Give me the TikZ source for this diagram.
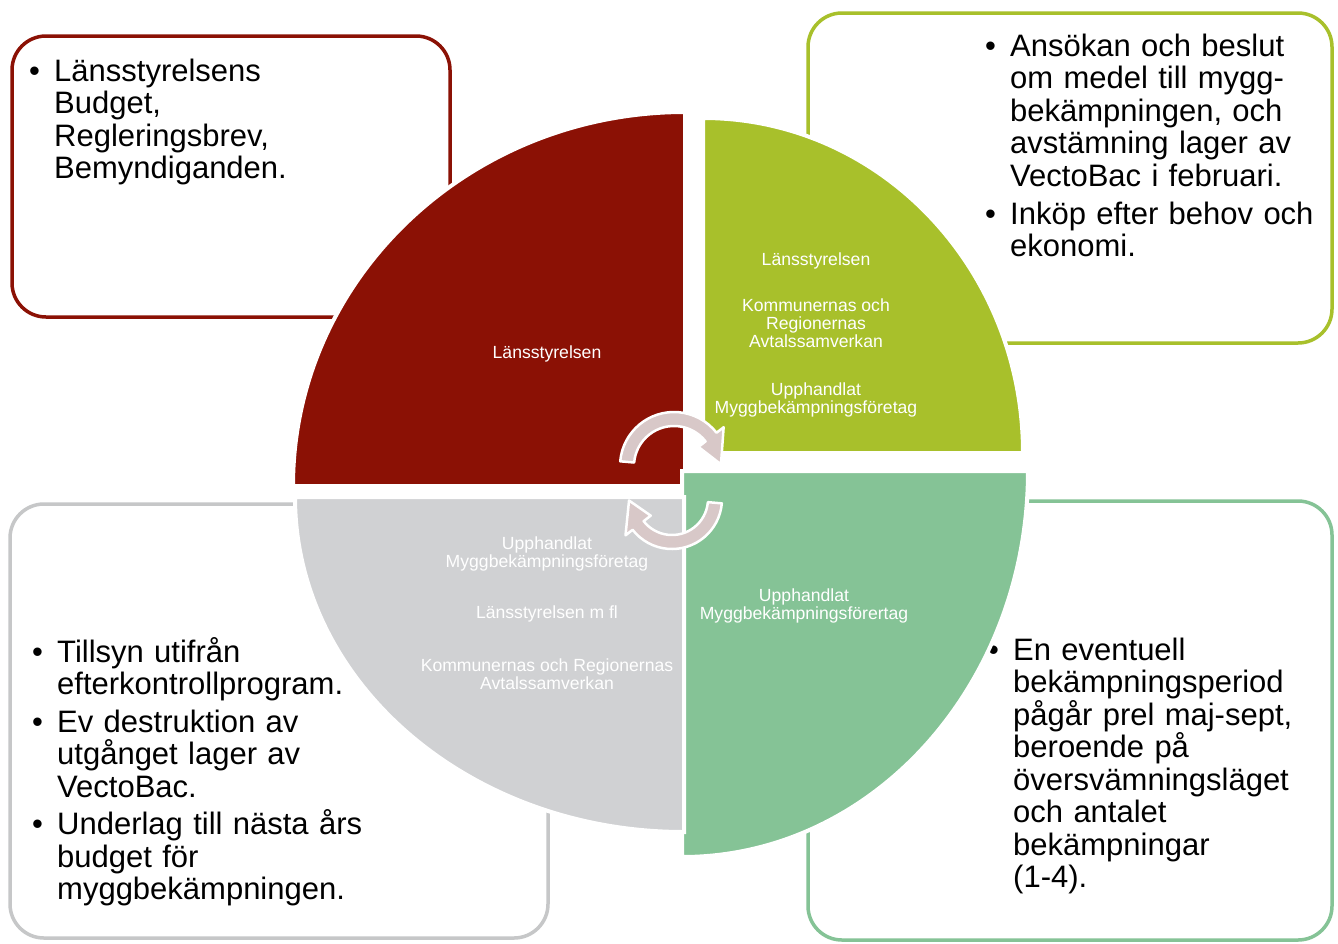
\documentclass[tikz,border=0pt]{standalone}
\usepackage{fontspec}
\setmainfont{Liberation Sans}
\usetikzlibrary{calc}

\definecolor{rod}{RGB}{139,17,5}
\definecolor{lime}{RGB}{168,192,43}
\definecolor{mint}{RGB}{133,195,150}
\definecolor{ljusgra}{RGB}{208,209,211}
\definecolor{pil}{RGB}{216,200,200}

\newcommand{\bpunkt}[1]{\noindent\hangindent=25pt\hangafter=1\hbox to 25pt{\textbullet\hfil}#1\par}

\begin{document}
\begin{tikzpicture}[x=1pt, y=-1pt,
  ruta/.style={line width=3.5pt, rounded corners=34pt, fill=white},
  sektor/.style={draw=white, line width=4pt},
  stor/.style={anchor=base west, inner sep=0pt, text width=360pt, font=\fontsize{31}{32.5}\selectfont},
  liten/.style={align=center, inner sep=0pt, text=white, font=\fontsize{17.6}{18}\selectfont},
  vandpil/.style={fill=pil, draw=white, line width=2.5pt, line join=round}]

\useasboundingbox[fill=white] (0,0) rectangle (1338,943);

% rutorna
\draw[ruta, draw=rod] (12,36) rectangle (450,317);
\draw[ruta, draw=lime] (808,13) rectangle (1332,343);
\draw[ruta, draw=mint] (808,501) rectangle (1332,940);
\draw[ruta, draw=ljusgra!95!black] (10,504) rectangle (548,938);

\node[stor] (budget) at (29,81) {\raggedright\setlength{\parskip}{5pt}%
 \bpunkt{Länsstyrelsens\newline Budget,\newline Regleringsbrev,\newline Bemyndiganden.}};
\node[stor] (ansokan) at (985,56) {\raggedright\setlength{\parskip}{5.5pt}%
 \bpunkt{Ansökan och beslut\newline om medel till mygg-\newline bekämpningen, och\newline avstämning lager av\newline VectoBac i februari.}%
 \bpunkt{Inköp efter behov och\newline ekonomi.}};
\node[stor] (period) at (988,660) {\raggedright\setlength{\parskip}{5pt}%
 \bpunkt{En eventuell\newline bekämpningsperiod\newline pågår prel maj-sept,\newline beroende på\newline översvämningsläget\newline och antalet\newline bekämpningar\newline (1-4).}};
\node[stor] (tillsyn) at (32,662) {\raggedright\setlength{\parskip}{5pt}%
 \bpunkt{Tillsyn utifrån\newline efterkontrollprogram.}%
 \bpunkt{Ev destruktion av\newline utgånget lager av\newline VectoBac.}%
 \bpunkt{Underlag till nästa års\newline budget för\newline myggbekämpningen.}};

% cirkeln
\coordinate (rc) at (685,486);
\coordinate (gc) at (703,453);
\coordinate (mc) at (682,471);
\coordinate (lc) at (684,497);
\filldraw[sektor, fill=rod] (rc) -- ++(-392,0) arc[start angle=180, end angle=270, x radius=392, y radius=374] -- cycle;
\filldraw[sektor, fill=lime] (gc) -- ++(0,-335) arc[start angle=270, end angle=360, x radius=320, y radius=335] -- cycle;
\filldraw[sektor, fill=mint] (mc) -- ++(346,0) arc[start angle=0, end angle=90, x radius=346, y radius=386] -- cycle;
\filldraw[sektor, fill=ljusgra] (lc) -- ++(0,335) arc[start angle=90, end angle=180, x radius=389, y radius=335] -- cycle;

\node[liten] (lst1) at (547,354) {Länsstyrelsen};
\node[liten] (lst2) at (816,261) {Länsstyrelsen};
\node[liten] (kom1) at (816,323) {Kommunernas och\\Regionernas\\Avtalssamverkan};
\node[liten] (upp1) at (816,400) {Upphandlat\\Myggbekämpningsföretag};
\node[liten] (upp2) at (804,606) {Upphandlat\\Myggbekämpningsförertag};
\node[liten] (upp3) at (547,554) {Upphandlat\\Myggbekämpningsföretag};
\node[liten] (lst3) at (547,614) {Länsstyrelsen m fl};
\node[liten] (kom2) at (547,674) {Kommunernas och Regionernas\\Avtalssamverkan};

% pilarna i mitten
\coordinate (uc) at (674,466);
\coordinate (nc) at (672,499);
\filldraw[vandpil] ($(uc)+(185:54)$) arc[start angle=185, end angle=322, radius=54]
  -- ($(uc)+(322:63)$) -- ($(uc)+(358:47)$) -- ($(uc)+(322:31)$) -- ($(uc)+(322:40)$)
  arc[start angle=322, end angle=185, radius=40] -- cycle;
\filldraw[vandpil] ($(nc)+(5:50)$) arc[start angle=5, end angle=142, radius=50]
  -- ($(nc)+(142:59)$) -- ($(nc)+(178:43)$) -- ($(nc)+(142:27)$) -- ($(nc)+(142:36)$)
  arc[start angle=142, end angle=5, radius=36] -- cycle;

\end{tikzpicture}
\end{document}
